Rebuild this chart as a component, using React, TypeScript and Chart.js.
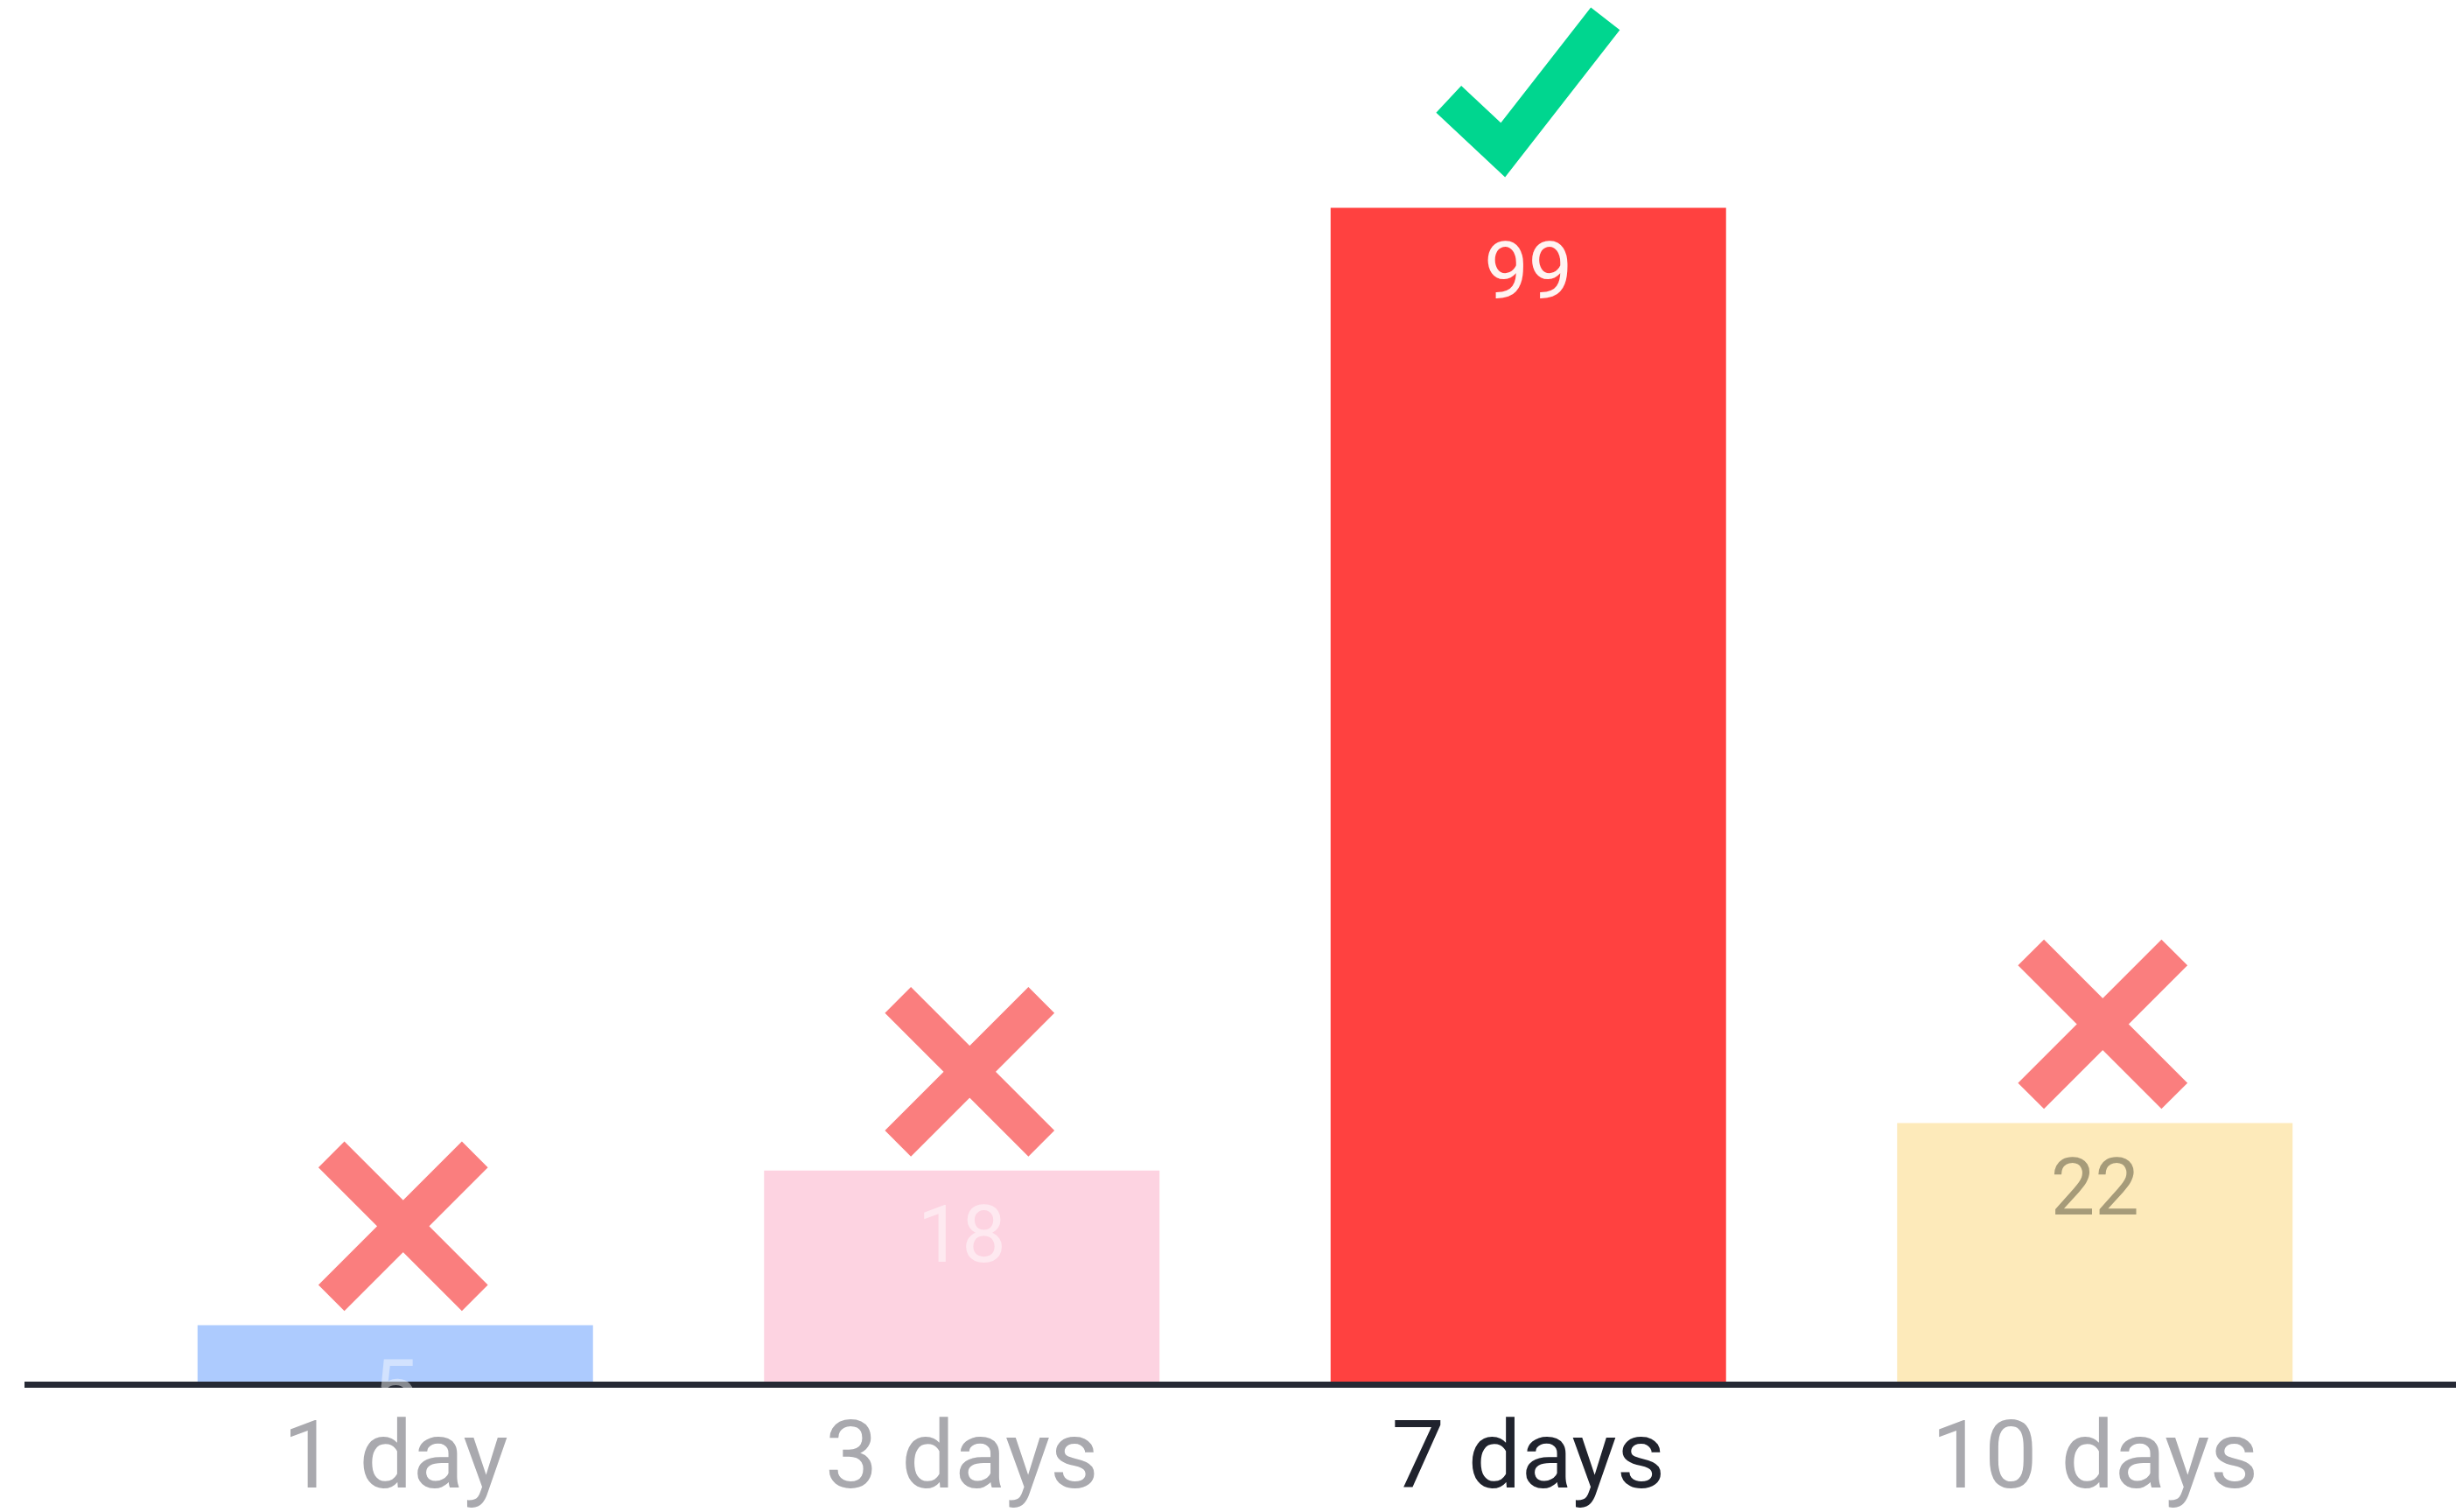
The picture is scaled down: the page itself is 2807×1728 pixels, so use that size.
import React, { useEffect, useRef } from "react";
import { Chart, registerables } from "chart.js";

Chart.register(...registerables);

// ---- data ----
const categories = ["1 day", "3 days", "7 days", "10 days"];
const values = [5, 18, 99, 22];
const markers = ["cross", "cross", "check", "cross"];

// ---- styles ----
const barColors = ["#ADCBFE", "#FDD3E1", "#FF4140", "#FDEABA"];
const valueLabelColors = [
  "rgba(255,255,255,0.45)",
  "rgba(255,255,255,0.5)",
  "#FFF4F2",
  "#A69B79",
];
const tickColors = ["#A9A9AE", "#A9A9AE", "#20232D", "#A9A9AE"];
const AXIS_COLOR = "#262A35";
const CROSS_COLOR = "#FA7E7E";
const CHECK_COLOR = "#00D68F";
const FONT = "Roboto, 'Noto Sans', sans-serif";

const overlayPlugin = {
  id: "overlay",
  afterDatasetsDraw(chart: any) {
    const ctx = chart.ctx as CanvasRenderingContext2D;
    const meta = chart.getDatasetMeta(0);
    const y0 = chart.scales.y.getPixelForValue(0);
    ctx.save();
    // baseline axis line
    ctx.strokeStyle = AXIS_COLOR;
    ctx.lineWidth = 7;
    ctx.lineCap = "butt";
    ctx.beginPath();
    ctx.moveTo(28, y0);
    ctx.lineTo(chart.width, y0);
    ctx.stroke();

    meta.data.forEach((bar: any, i: number) => {
      const { x, y } = bar.getProps(["x", "y"], true);
      if (markers[i] === "cross") {
        const cx = x + 9;
        const cy = y - 113;
        const a = 82;
        ctx.strokeStyle = CROSS_COLOR;
        ctx.lineWidth = 42;
        ctx.lineCap = "butt";
        ctx.beginPath();
        ctx.moveTo(cx - a, cy - a);
        ctx.lineTo(cx + a, cy + a);
        ctx.moveTo(cx + a, cy - a);
        ctx.lineTo(cx - a, cy + a);
        ctx.stroke();
      } else {
        ctx.strokeStyle = CHECK_COLOR;
        ctx.lineWidth = 42;
        ctx.lineCap = "butt";
        ctx.lineJoin = "miter";
        ctx.beginPath();
        ctx.moveTo(x - 91, y - 124);
        ctx.lineTo(x - 29, y - 66);
        ctx.lineTo(x + 88, y - 216);
        ctx.stroke();
      }
      ctx.fillStyle = valueLabelColors[i];
      ctx.font = `400 90px ${FONT}`;
      ctx.textAlign = "center";
      ctx.textBaseline = "alphabetic";
      ctx.fillText(String(values[i]), x, y + 104);
    });
    ctx.restore();
  },
};

export default function App() {
  const canvasRef = useRef<HTMLCanvasElement | null>(null);

  useEffect(() => {
    let chart: Chart | null = null;
    let cancelled = false;
    const make = () => {
      if (cancelled || !canvasRef.current) return;
      chart = new Chart(canvasRef.current, {
        type: "bar",
        data: {
          labels: categories,
          datasets: [
            {
              data: values,
              backgroundColor: barColors,
              borderWidth: 0,
              categoryPercentage: 1,
              barPercentage: 0.698,
            },
          ],
        },
        options: {
          responsive: false,
          animation: false,
          devicePixelRatio: 1,
          layout: { padding: { top: 88, left: 128, right: 89, bottom: -36 } },
          plugins: {
            legend: { display: false },
            tooltip: { enabled: false },
          },
          scales: {
            x: {
              grid: { display: false, drawTicks: false },
              border: { display: false },
              ticks: {
                padding: 26,
                color: (c: any) => tickColors[c.index],
                font: { family: FONT, size: 108, weight: "400", lineHeight: 1.2 },
              },
            },
            y: {
              display: false,
              min: 0,
              max: 110,
            },
          },
        },
        plugins: [overlayPlugin],
      });
    };
    const fontsAny = (document as any).fonts;
    if (fontsAny && fontsAny.load) {
      Promise.all([fontsAny.load("108px Roboto"), fontsAny.load("90px Roboto")])
        .catch(() => null)
        .then(make);
    } else {
      make();
    }
    return () => {
      cancelled = true;
      if (chart) chart.destroy();
    };
  }, []);

  return (
    <div style={{ position: "absolute", left: 0, top: 0, width: 2807, height: 1728, background: "#fff" }}>
      <canvas ref={canvasRef} width={2807} height={1728} style={{ display: "block" }} />
    </div>
  );
}
